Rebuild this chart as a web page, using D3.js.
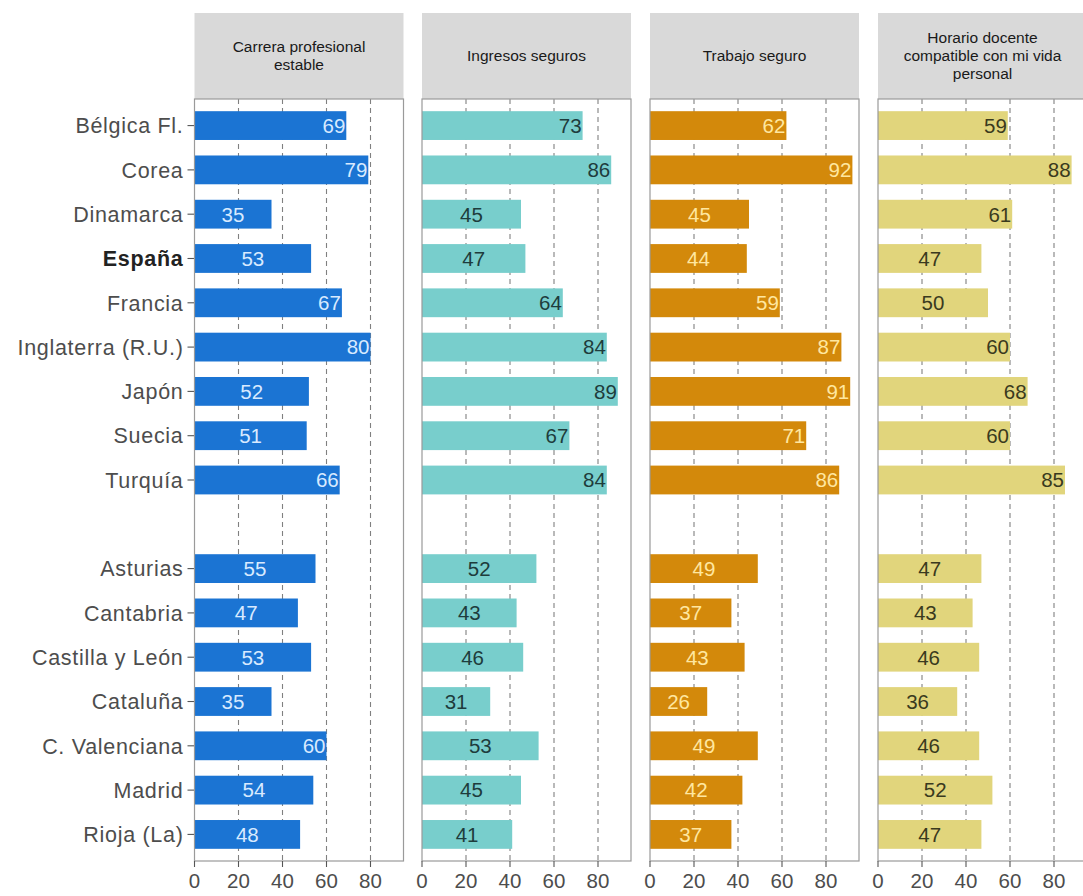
<!DOCTYPE html>
<html><head><meta charset="utf-8">
<script src="https://cdn.jsdelivr.net/npm/d3@7"></script>
<style>body{margin:0;background:#fff;}svg{display:block;font-family:"Liberation Sans",Arial,sans-serif;}</style>
</head><body><svg id="c" width="1083" height="896"></svg>
<script>
const categories = ["Bélgica Fl.","Corea","Dinamarca","España","Francia","Inglaterra (R.U.)","Japón","Suecia","Turquía"," ","Asturias","Cantabria","Castilla y León","Cataluña","C. Valenciana","Madrid","Rioja (La)"];
const panelTitles = [["Carrera profesional","estable"],["Ingresos seguros"],["Trabajo seguro"],["Horario docente","compatible con mi vida","personal"]];
const carrera = [69,79,35,53,67,80,52,51,66,null,55,47,53,35,60,54,48];
const ingresos = [73,86,45,47,64,84,89,67,84,null,52,43,46,31,53,45,41];
const trabajo  = [62,92,45,44,59,87,91,71,86,null,49,37,43,26,49,42,37];
const horario  = [59,88,61,47,50,60,68,60,85,null,47,43,46,36,46,52,47];
const xTicks = [0,20,40,60,80];
const barColors = ["#1B74D3","#78CECC","#D3890B","#E1D57C"];
const labelColors = ["#D8EAFF","#1E3C3C","#FFE7A0","#3A3A1E"];
const series = [carrera, ingresos, trabajo, horario];

const svg = d3.select("#c");
const panelLeft = [194.5, 422, 650, 878];
const panelW = 209;
const pTop = 99, pBottom = 861;
const y = d3.scalePoint().domain(categories).range([pTop, pBottom]).padding(0.6);
const step = y.step();
const barH = step*0.65;

// y axis labels
const yl = svg.append("g");
categories.forEach((c,i)=>{
  if (c.trim()==="") return;
  const yy = y(c);
  yl.append("line").attr("x1",panelLeft[0]-7).attr("x2",panelLeft[0]).attr("y1",yy).attr("y2",yy)
    .attr("stroke","#555").attr("stroke-width",1.1);
  yl.append("text").attr("x",panelLeft[0]-11).attr("y",yy).attr("dy","0.36em")
    .attr("text-anchor","end").attr("font-size",21.5).attr("letter-spacing","0.7px")
    .attr("fill", c==="España" ? "#222" : "#4D4D4D")
    .attr("font-weight", c==="España" ? "bold" : "normal")
    .text(c);
});

series.forEach((vals, p)=>{
  const x0 = panelLeft[p];
  const x = d3.scaleLinear().domain([0, panelW/2.2]).range([x0, x0+panelW]);
  const g = svg.append("g");
  // strip
  g.append("rect").attr("x",x0).attr("y",13).attr("width",panelW).attr("height",pTop-13).attr("fill","#D9D9D9");
  const lines = panelTitles[p];
  const lh = 18;
  lines.forEach((t,k)=>{
    g.append("text").attr("x",x0+panelW/2).attr("y",56 + (k-(lines.length-1)/2)*lh).attr("dy","0.35em")
      .attr("text-anchor","middle").attr("font-size",15.5).attr("fill","#1A1A1A").text(t);
  });
  // panel bg
  g.append("rect").attr("x",x0).attr("y",pTop).attr("width",panelW).attr("height",pBottom-pTop).attr("fill","#fff");
  // grid dashed
  xTicks.filter(v=>v>0).forEach(v=>{
    g.append("line").attr("x1",x(v)).attr("x2",x(v)).attr("y1",pTop).attr("y2",pBottom)
      .attr("stroke","#808080").attr("stroke-width",1.1).attr("stroke-dasharray","5,4");
  });
  // bars
  categories.forEach((c,i)=>{
    const v = vals[i];
    if (v==null) return;
    const yy = y(c);
    g.append("rect").attr("x",x(0)).attr("y",yy-barH/2).attr("width",x(v)-x(0)).attr("height",barH)
      .attr("fill",barColors[p]);
    const right = v >= 57;
    g.append("text").attr("x", right ? x(v)-1 : x(v/2)).attr("y",yy).attr("dy","0.36em")
      .attr("text-anchor", right ? "end" : "middle").attr("font-size",20.5)
      .attr("fill",labelColors[p]).text(v);
  });
  // border
  g.append("rect").attr("x",x0).attr("y",pTop).attr("width",panelW).attr("height",pBottom-pTop)
    .attr("fill","none").attr("stroke","#9a9a9a").attr("stroke-width",1.2);
  // x axis
  xTicks.forEach(v=>{
    g.append("line").attr("x1",x(v)).attr("x2",x(v)).attr("y1",pBottom).attr("y2",pBottom+6)
      .attr("stroke","#555").attr("stroke-width",1.1);
    g.append("text").attr("x",x(v)).attr("y",pBottom+20).attr("dy","0.36em").attr("text-anchor","middle")
      .attr("font-size",20.5).attr("fill","#4D4D4D").text(v);
  });
});
</script></body></html>
